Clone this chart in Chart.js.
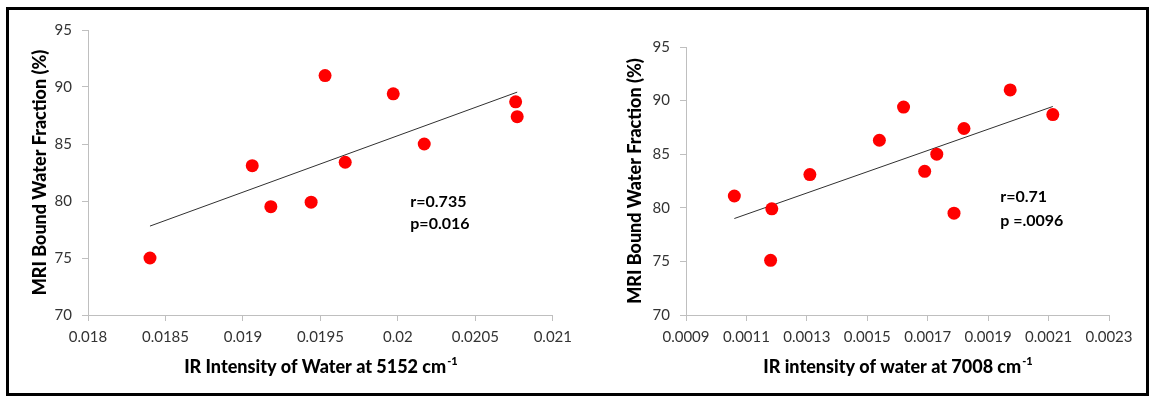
<!DOCTYPE html>
<html>
<head>
<meta charset="utf-8">
<script src="https://cdn.jsdelivr.net/npm/chart.js@4.4.1/dist/chart.umd.min.js"></script>
<style>
  body { margin: 0; background: #fff; width: 1150px; height: 397px; position: relative; overflow: hidden; }
  #frame { position: absolute; left: 6px; top: 7px; width: 1143px; height: 389px; box-sizing: border-box; border: 3px solid #000; }
  .box { position: absolute; top: 11px; height: 380px; }
  #leftBox { left: 10px; width: 569px; }
  #rightBox { left: 580px; width: 566px; }
</style>
</head>
<body>
<div class="box" id="leftBox"><canvas id="left"></canvas></div>
<div class="box" id="rightBox"><canvas id="right"></canvas></div>
<div id="frame"></div>
<script>
// left panel: IR 5152 cm-1
var xLeft = [0.0184, 0.01906, 0.01918, 0.01944, 0.01953, 0.01966, 0.01997, 0.02017, 0.02076, 0.02077];
var yLeft = [75.0, 83.1, 79.5, 79.9, 91.0, 83.4, 89.4, 85.0, 88.7, 87.4];
var trendLeftX = [0.0184, 0.02077];
var trendLeftY = [77.8, 89.55];
var xTicksLeft = [0.018, 0.0185, 0.019, 0.0195, 0.02, 0.0205, 0.021];
var xTickLabelsLeft = ['0.018', '0.0185', '0.019', '0.0195', '0.02', '0.0205', '0.021'];
var statsLeft = ['r=0.735', 'p=0.016'];

// right panel: IR 7008 cm-1
var xRight = [0.00106, 0.00118, 0.001184, 0.00131, 0.00154, 0.00162, 0.00169, 0.00173, 0.001787, 0.00182, 0.001973, 0.002114];
var yRight = [81.1, 75.1, 79.9, 83.1, 86.3, 89.4, 83.4, 85.0, 79.5, 87.4, 91.0, 88.7];
var trendRightX = [0.00106, 0.002114];
var trendRightY = [79.0, 89.45];
var xTicksRight = [0.0009, 0.0011, 0.0013, 0.0015, 0.0017, 0.0019, 0.0021, 0.0023];
var xTickLabelsRight = ['0.0009', '0.0011', '0.0013', '0.0015', '0.0017', '0.0019', '0.0021', '0.0023'];
var statsRight = ['r=0.71', 'p =.0096'];

var yTicks = [70, 75, 80, 85, 90, 95];
var yTitle = 'MRI Bound Water Fraction (%)';

var titleFont = '900 18px Lato';
var supFont = '900 11px Lato';

// r / p text inside the plot
var statsPlugin = {
  id: 'stats',
  afterDatasetsDraw: function(chart, args, opts) {
    var ctx = chart.ctx, xs = chart.scales.x, ys = chart.scales.y;
    ctx.save();
    ctx.font = 'bold 16px Lato';
    ctx.fillStyle = '#000';
    ctx.textAlign = 'left';
    ctx.textBaseline = 'middle';
    for (var i = 0; i < opts.lines.length; i++) {
      ctx.fillText(opts.lines[i], xs.getPixelForValue(opts.x), ys.getPixelForValue(opts.y[i]));
    }
    ctx.restore();
  }
};

// axis titles drawn by hand so the heavy weight and the superscript come out right
var titlesPlugin = {
  id: 'titles',
  afterDraw: function(chart, args, opts) {
    var ctx = chart.ctx, ca = chart.chartArea;
    ctx.save();
    ctx.fillStyle = '#000';
    ctx.textBaseline = 'middle';
    ctx.font = titleFont;
    var w1 = ctx.measureText(opts.x).width;
    ctx.font = supFont;
    var w2 = ctx.measureText(opts.sup).width;
    var x0 = (ca.left + ca.right) / 2 - (w1 + w2) / 2;
    var yMid = chart.scales.x.bottom - 24;
    ctx.textAlign = 'left';
    ctx.font = titleFont;
    ctx.fillText(opts.x, x0, yMid);
    ctx.font = supFont;
    ctx.fillText(opts.sup, x0 + w1 + 1, yMid - 6);
    ctx.translate(opts.yPos, (ca.top + ca.bottom) / 2);
    ctx.rotate(-Math.PI / 2);
    ctx.textAlign = 'center';
    ctx.font = titleFont;
    ctx.fillText(opts.y, 0, 0);
    ctx.restore();
  }
};

var pairs = function(xs, ys) {
  return xs.map(function(x, i) { return {x: x, y: ys[i]}; });
};

var makeChart = function(id, p) {
  var context = document.getElementById(id).getContext('2d');
  return new Chart(context, {
    type: 'scatter',
    data: {
      datasets: [{
        data: pairs(p.xs, p.ys),
        backgroundColor: '#ff0000',
        borderWidth: 0,
        pointRadius: 6.5
      }, {
        type: 'line',
        data: pairs(p.tx, p.ty),
        borderColor: '#303030',
        borderWidth: 1,
        pointRadius: 0,
        fill: false
      }]
    },
    plugins: [statsPlugin, titlesPlugin],
    options: {
      responsive: true,
      maintainAspectRatio: false,
      animation: false,
      events: [],
      layout: { padding: { left: 0, top: p.top, right: p.right, bottom: 0 } },
      plugins: {
        legend: { display: false },
        tooltip: { enabled: false },
        stats: { lines: p.stats, x: p.statX, y: p.statY },
        titles: { x: p.xTitle, sup: '-1', y: yTitle, yPos: p.yTitleX }
      },
      scales: {
        x: {
          type: 'linear',
          min: p.xTicks[0],
          max: p.xTicks[p.xTicks.length - 1],
          afterBuildTicks: function(scale) {
            scale.ticks = p.xTicks.map(function(v) { return {value: v}; });
          },
          afterFit: function(scale) { scale.height = 76; },
          grid: { drawOnChartArea: false, color: '#bfbfbf', tickLength: 6 },
          border: { color: '#bfbfbf', width: 1 },
          ticks: {
            autoSkip: false,
            maxRotation: 0,
            padding: 7,
            color: '#333333',
            font: { family: 'Lato', size: 15 },
            callback: function(v, i) { return p.xLabels[i]; }
          }
        },
        y: {
          min: 70,
          max: 95,
          afterBuildTicks: function(scale) {
            scale.ticks = yTicks.map(function(v) { return {value: v}; });
          },
          afterFit: function(scale) { scale.width = p.yWidth; },
          grid: { drawOnChartArea: false, color: '#bfbfbf', tickLength: 6 },
          border: { color: '#bfbfbf', width: 1 },
          ticks: {
            padding: 10,
            color: '#333333',
            font: { family: 'Lato', size: 15 }
          }
        }
      }
    }
  });
};

makeChart('left', {
  xs: xLeft, ys: yLeft, tx: trendLeftX, ty: trendLeftY,
  xTicks: xTicksLeft, xLabels: xTickLabelsLeft,
  xTitle: 'IR Intensity of Water at 5152 cm',
  stats: statsLeft, statX: 0.02008, statY: [79.9, 78.0],
  top: 16, right: 20, yWidth: 78, yTitleX: 30
});

makeChart('right', {
  xs: xRight, ys: yRight, tx: trendRightX, ty: trendRightY,
  xTicks: xTicksRight, xLabels: xTickLabelsRight,
  xTitle: 'IR intensity of water at 7008 cm',
  stats: statsRight, statX: 0.00194, statY: [81.0, 78.8],
  top: 36, right: 37, yWidth: 106, yTitleX: 55
});
</script>
</body>
</html>
